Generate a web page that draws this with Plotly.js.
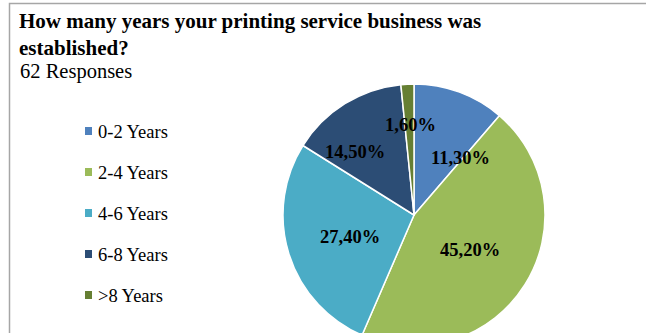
<!DOCTYPE html>
<html>
<head>
<meta charset="utf-8">
<script src="https://cdn.plot.ly/plotly-3.0.1.min.js"></script>
<style>
html, body { margin: 0; padding: 0; overflow: hidden; background: #fff; }
#chart { width: 646px; height: 400px; }
</style>
</head>
<body>
<div id="chart"></div>
<script>
// ---- data ----
const categories = ["0-2 Years", "2-4 Years", "4-6 Years", "6-8 Years", ">8 Years"];
const values = [11.3, 45.2, 27.4, 14.5, 1.6];
const valueLabels = ["11,30%", "45,20%", "27,40%", "14,50%", "1,60%"];
const colors = ["#4F81BD", "#9BBB59", "#4BACC6", "#2C4D75", "#667F33"];
const titleText = "How many years your printing service business was<br>established?";
const subtitleText = "62 Responses";

// ---- layout helpers (pixels -> paper) ----
const W = 646, H = 400;
const px = x => x / W;
const py = y => 1 - y / H;

// label text centres (pixels), same order as categories
const labelPx = [[460, 158], [470, 250], [350, 237], [355, 152], [410, 125]];

const serif = "Liberation Serif, Times New Roman, serif";

const annotations = [];
// data labels
categories.forEach((c, i) => {
  annotations.push({
    xref: "paper", yref: "paper",
    x: px(labelPx[i][0]), y: py(labelPx[i][1]),
    text: "<b>" + valueLabels[i] + "</b>",
    showarrow: false,
    xanchor: "center", yanchor: "middle",
    font: { family: serif, size: 18.5, color: "#000" }
  });
});
// subtitle
annotations.push({
  xref: "paper", yref: "paper",
  x: px(18), y: py(71),
  text: subtitleText, showarrow: false,
  xanchor: "left", yanchor: "middle",
  font: { family: serif, size: 20.5, color: "#000" }
});
// custom legend
const legendX = 96, legendY0 = 132, legendGap = 41;
const shapes = [];
categories.forEach((c, i) => {
  const cy = legendY0 + i * legendGap;
  annotations.push({
    xref: "paper", yref: "paper",
    x: px(legendX), y: py(cy),
    text: c, showarrow: false,
    xanchor: "left", yanchor: "middle",
    font: { family: serif, size: 18.5, color: "#000" }
  });
  shapes.push({
    type: "rect", xref: "paper", yref: "paper",
    x0: px(85), x1: px(92), y0: py(cy + 3), y1: py(cy - 5),
    fillcolor: colors[i], line: { width: 0 }
  });
});
// outer frame
shapes.push({
  type: "rect", xref: "paper", yref: "paper",
  x0: px(9.5), x1: px(700), y0: py(450), y1: py(3.5),
  fillcolor: "rgba(0,0,0,0)", line: { color: "#A6A6A6", width: 1.5 }
});

const data = [{
  type: "pie",
  labels: categories,
  values: values,
  sort: false,
  direction: "clockwise",
  rotation: 0,
  marker: { colors: colors, line: { color: "#ffffff", width: 1.5 } },
  textinfo: "none",
  hoverinfo: "none",
  showlegend: false,
  domain: { x: [px(283), px(545)], y: [py(346), py(84)] }
}];

const layout = {
  width: W, height: H,
  margin: { l: 0, r: 0, t: 0, b: 0 },
  paper_bgcolor: "#ffffff",
  showlegend: false,
  title: {
    text: "<b>" + titleText + "</b>",
    xref: "container", yref: "container",
    x: px(19), xanchor: "left",
    y: py(28), yanchor: "top",
    font: { family: serif, size: 21, color: "#000" }
  },
  annotations: annotations,
  shapes: shapes
};

Plotly.newPlot("chart", data, layout, { staticPlot: true, displayModeBar: false });
</script>
</body>
</html>
